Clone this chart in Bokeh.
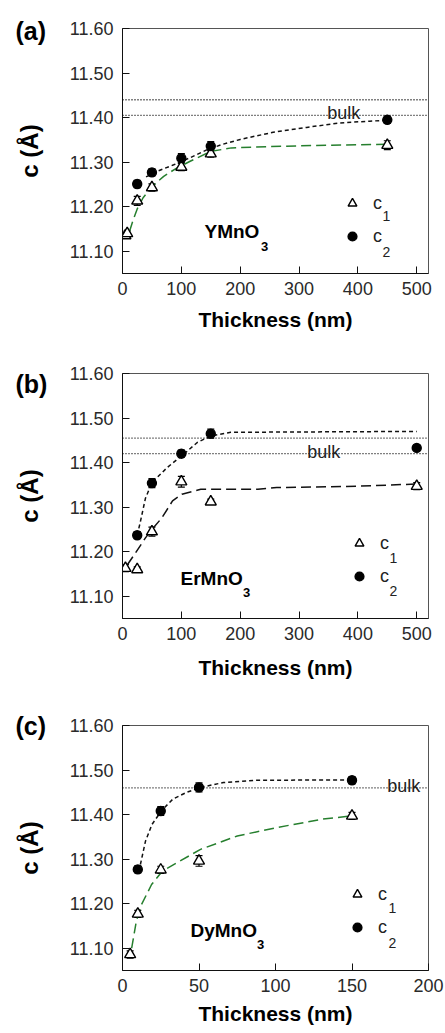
from bokeh.plotting import figure
from bokeh.models import (ColumnDataSource, Range1d, FixedTicker, NumeralTickFormatter,
                          Whisker, TeeHead, Span, Label, Legend, LegendItem)
from bokeh.layouts import column
from bokeh.embed import file_html
from bokeh.resources import INLINE

FONT = "Liberation Sans"

# ---------------- data ----------------
y_ticks = [11.10, 11.20, 11.30, 11.40, 11.50, 11.60]
x_ticks_ab = [0, 100, 200, 300, 400, 500]
x_ticks_c = [0, 50, 100, 150, 200]

# (a) YMnO3
a_c1_x = [5, 8, 25, 50, 100, 150, 450]
a_c1_y = [11.135, 11.140, 11.213, 11.243, 11.289, 11.319, 11.338]
a_c1_err = [0.006, 0.006, 0.010, 0.008, 0.008, 0.008, 0.010]
a_c2_x = [25, 50, 100, 150, 450]
a_c2_y = [11.251, 11.277, 11.309, 11.336, 11.395]
a_c2_err = [0.008, 0.008, 0.010, 0.010, 0.008]
a_fit1_x = [12, 18, 25, 35, 50, 70, 90, 115, 150, 185, 250, 350, 450]
a_fit1_y = [11.145, 11.170, 11.195, 11.220, 11.245, 11.268, 11.285, 11.302, 11.324, 11.332, 11.335, 11.338, 11.340]
a_fit2_x = [40, 60, 87, 115, 144, 170, 200, 256, 313, 369, 420, 450]
a_fit2_y = [11.267, 11.280, 11.294, 11.310, 11.328, 11.340, 11.351, 11.367, 11.378, 11.388, 11.392, 11.394]
a_bulk = [11.405, 11.440]

# (b) ErMnO3
b_c1_x = [5, 25, 50, 100, 150, 500]
b_c1_y = [11.163, 11.160, 11.245, 11.357, 11.312, 11.347]
b_c1_err = [0.008, 0.006, 0.010, 0.012, 0.006, 0.008]
b_c2_x = [25, 50, 100, 150, 500]
b_c2_y = [11.237, 11.354, 11.420, 11.465, 11.433]
b_c2_err = [0.008, 0.010, 0.008, 0.010, 0.006]
b_fit1_x = [8, 22, 39, 50, 67, 85, 101, 133, 230, 262, 400, 500]
b_fit1_y = [11.170, 11.197, 11.231, 11.250, 11.276, 11.314, 11.329, 11.340, 11.340, 11.344, 11.347, 11.352]
b_fit2_x = [25, 30, 39, 50, 76, 104, 127, 150, 184, 500]
b_fit2_y = [11.237, 11.265, 11.320, 11.355, 11.389, 11.419, 11.445, 11.460, 11.468, 11.470]
b_bulk = [11.420, 11.455]

# (c) DyMnO3
c_c1_x = [5, 10, 25, 50, 150]
c_c1_y = [11.086, 11.177, 11.276, 11.296, 11.397]
c_c1_err = [0.008, 0.008, 0.008, 0.012, 0.008]
c_c2_x = [10, 25, 50, 150]
c_c2_y = [11.277, 11.408, 11.461, 11.477]
c_c2_err = [0.008, 0.010, 0.010, 0.008]
c_fit1_x = [6, 9, 12, 19, 26, 51, 75, 101, 131, 150]
c_fit1_y = [11.100, 11.160, 11.195, 11.243, 11.273, 11.322, 11.352, 11.371, 11.390, 11.397]
c_fit2_x = [11.7, 15, 19.3, 25.8, 33, 42, 51, 66, 87, 150]
c_fit2_y = [11.288, 11.340, 11.378, 11.410, 11.435, 11.450, 11.461, 11.472, 11.477, 11.478]
c_bulk = [11.460]

GREEN = "#267f2e"
FRAME_H = 245


def panel(tag, compound, xmax, xticks, c1, c2, fit1, fit1_color, fit1_dash, fit2,
          bulk, bulk_x, height, top, lay):
    p = figure(width=444, height=height, output_backend="svg", toolbar_location=None,
               x_range=Range1d(0, xmax), y_range=Range1d(11.05, 11.60),
               min_border_left=122, min_border_right=16, min_border_top=top,
               min_border_bottom=height - top - FRAME_H)
    p.grid.visible = False
    p.outline_line_color = "#555555"
    p.outline_line_width = 1
    for ax, ticks in ((p.xaxis[0], xticks), (p.yaxis[0], y_ticks)):
        ax.ticker = FixedTicker(ticks=ticks)
        ax.major_tick_in = 7
        ax.major_tick_out = 0
        ax.minor_tick_in = 0
        ax.minor_tick_out = 0
        ax.axis_line_color = "#111111"
        ax.major_tick_line_color = "#111111"
        ax.major_label_text_font = FONT
        ax.major_label_text_font_size = "18px"
        ax.major_label_text_color = "#2a2a2a"
        ax.axis_label_text_font = FONT
        ax.axis_label_text_font_style = "bold"
        ax.axis_label_text_color = "black"
    p.xaxis[0].major_label_standoff = 8
    p.yaxis[0].major_label_standoff = 9
    p.yaxis[0].formatter = NumeralTickFormatter(format="0.00")
    p.xaxis[0].axis_label = "Thickness (nm)"
    p.xaxis[0].axis_label_text_font_size = "21px"
    p.xaxis[0].axis_label_standoff = lay["xlab_standoff"]
    p.yaxis[0].axis_label = "c (Å)"
    p.yaxis[0].axis_label_text_font_size = "24px"
    p.yaxis[0].axis_label_standoff = 24

    # panel tag as a left-aligned title pulled down beside the top tick label
    p.title.text = tag
    p.title.align = "left"
    p.title.offset = -107
    p.title.standoff = lay["tag_standoff"]
    p.title.vertical_align = "bottom"
    p.title.text_font = FONT
    p.title.text_font_size = "25px"
    p.title.text_font_style = "bold"
    p.title.text_color = "black"

    for v in bulk:
        p.add_layout(Span(location=v, dimension="width", line_color="black",
                          line_dash="1 2", line_width=1.3))
    p.add_layout(Label(x=bulk_x, y=bulk[0], text="bulk", text_font=FONT,
                       text_font_size="18px", text_color="#222222",
                       text_baseline="alphabetic", y_offset=2))

    p.line(fit1[0], fit1[1], line_color=fit1_color, line_dash=fit1_dash, line_width=1.5)
    p.line(fit2[0], fit2[1], line_color="#111111", line_dash="4 3", line_width=1.5)

    rends = []
    for (xs, ys, es), marker, fill, size in ((c1, "triangle", "white", 11),
                                             (c2, "circle", "black", 9)):
        src = ColumnDataSource(dict(x=xs, y=ys,
                                    lo=[y - e for y, e in zip(ys, es)],
                                    hi=[y + e for y, e in zip(ys, es)]))
        p.add_layout(Whisker(base="x", lower="lo", upper="hi", source=src,
                             dimension="height", line_color="black", line_width=1.2,
                             upper_head=TeeHead(size=7, line_color="black", line_width=1.2),
                             lower_head=TeeHead(size=7, line_color="black", line_width=1.2)))
        r = p.scatter("x", "y", source=src, marker=marker, size=size,
                      fill_color=fill, line_color="black", line_width=1.4)
        rends.append(r)

    leg = Legend(items=[LegendItem(label="c", renderers=[rends[0]]),
                        LegendItem(label="c", renderers=[rends[1]])],
                 location=lay["legend"], orientation="vertical",
                 glyph_width=22, glyph_height=22, label_height=22, spacing=11,
                 label_standoff=10, padding=0, margin=0,
                 border_line_color=None, background_fill_alpha=0,
                 label_text_font=FONT, label_text_font_size="18px",
                 label_text_color="#222222")
    p.add_layout(leg)

    def lab(x, y, text, size, bold=False, align="left"):
        p.add_layout(Label(x=x, y=y, x_units="screen", y_units="screen", text=text,
                           text_font=FONT, text_font_size=size,
                           text_font_style="bold" if bold else "normal",
                           text_align=align, text_baseline="middle",
                           text_color="black" if bold else "#222222"))

    for (sx, sy), t in zip(lay["subs"], ["1", "2"]):
        lab(sx, sy, t, "14px", align="center")
    cx, cy = lay["compound"]
    lab(cx, cy, compound, "19px", bold=True)
    sx, sy = lay["compound_sub"]
    lab(sx, sy, "3", "13px", bold=True, align="center")
    return p


pa = panel("(a)", "YMnO", 520, x_ticks_ab,
           (a_c1_x, a_c1_y, a_c1_err), (a_c2_x, a_c2_y, a_c2_err),
           (a_fit1_x, a_fit1_y), GREEN, "10 5", (a_fit2_x, a_fit2_y),
           a_bulk, 348, 353, 28,
           dict(legend=(219, 26), subs=[(264, 58), (264, 22)],
                compound=(82, 42), compound_sub=(142, 27),
                tag_standoff=-32, xlab_standoff=10))

pb = panel("(b)", "ErMnO", 520, x_ticks_ab,
           (b_c1_x, b_c1_y, b_c1_err), (b_c2_x, b_c2_y, b_c2_err),
           (b_fit1_x, b_fit1_y), "#111111", "10 5", (b_fit2_x, b_fit2_y),
           b_bulk, 314, 352, 20,
           dict(legend=(226, 31), subs=[(271, 61), (271, 28)],
                compound=(58, 40), compound_sub=(124, 26),
                tag_standoff=-48, xlab_standoff=13))

pc = panel("(c)", "DyMnO", 200, x_ticks_c,
           (c_c1_x, c_c1_y, c_c1_err), (c_c2_x, c_c2_y, c_c2_err),
           (c_fit1_x, c_fit1_y), GREEN, "10 5", (c_fit2_x, c_fit2_y),
           c_bulk, 173, 327, 20,
           dict(legend=(224, 32), subs=[(270, 63), (270, 28)],
                compound=(68, 40), compound_sub=(138, 26),
                tag_standoff=-28, xlab_standoff=7))

layout = column(pa, pb, pc, spacing=0)
open("out.html", "w").write(file_html(layout, INLINE))
